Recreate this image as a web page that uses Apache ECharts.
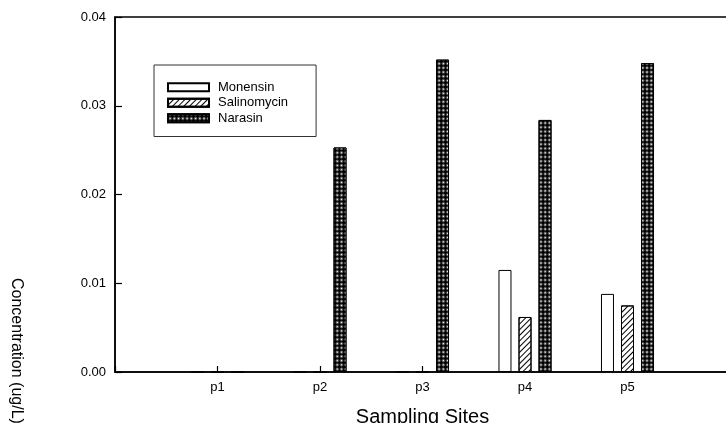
<!DOCTYPE html>
<html>
<head>
<meta charset="utf-8">
<script src="https://cdn.jsdelivr.net/npm/echarts@6/dist/echarts.min.js"></script>
<style>html,body{margin:0;padding:0;background:#fff}#c{width:726px;height:423px}</style>
</head>
<body>
<div id="c"></div>
<script>
const sites = ['p1', 'p2', 'p3', 'p4', 'p5'];
const monensin = [0, 0, 0, 0.0115, 0.0088];
const salinomycin = [0, 0, 0, 0.0062, 0.0075];
const narasin = [0, 0.0253, 0.0352, 0.0284, 0.0348];
const yTicks = { min: 0, max: 0.04, interval: 0.01 };
const xTitle = 'Sampling Sites';
const yTitle = 'Concentration (ug/L)';

const FONT = 'Liberation Sans, Arial, Helvetica, sans-serif';
const padCat = arr => ['', ...arr, ''];
const padVal = arr => [null, ...arr, null];
const chart = echarts.init(document.getElementById('c'), null, { renderer: 'canvas' });

const base = { type: 'bar', barWidth: 13, barGap: '54%' };
chart.setOption({
  animation: false,
  backgroundColor: '#fff',
  grid: {
    left: 115, top: 17, bottom: 51, right: -4,
    containLabel: false, outerBoundsMode: 'none',
    show: true, borderColor: '#000', borderWidth: 1.5, backgroundColor: 'transparent'
  },
  legend: {
    orient: 'vertical', left: 154, top: 65,
    padding: [15, 28, 11, 13],
    borderColor: '#333', borderWidth: 1,
    itemWidth: 41, itemHeight: 8, itemGap: 1,
    icon: 'rect',
    textStyle: { fontFamily: FONT, fontSize: 13, color: '#000', lineHeight: 14.5, padding: [0, 0, 0, 4] },
    data: ['Monensin', 'Salinomycin', 'Narasin']
  },
  xAxis: {
    type: 'category', data: padCat(sites), boundaryGap: false,
    name: xTitle, nameLocation: 'middle', nameGap: 35,
    nameTextStyle: { fontFamily: FONT, fontSize: 20, color: '#000' },
    axisLine: { lineStyle: { color: '#000', width: 1.5 } },
    axisTick: { inside: true, length: 6, lineStyle: { color: '#000', width: 1.2 } },
    axisLabel: { fontFamily: FONT, fontSize: 13, color: '#000', margin: 9 },
    splitLine: { show: false }
  },
  yAxis: {
    type: 'value', min: yTicks.min, max: yTicks.max, interval: yTicks.interval,
    axisLine: { show: true, lineStyle: { color: '#000', width: 1.5 } },
    axisTick: { show: true, inside: true, length: 7, lineStyle: { color: '#000', width: 1.2 } },
    axisLabel: { fontFamily: FONT, fontSize: 13, color: '#000', margin: 9, formatter: v => v.toFixed(2) },
    splitLine: { show: false }
  },
  graphic: [{
    type: 'text', x: 16, y: 278, rotation: -Math.PI / 2,
    style: { text: yTitle, fontFamily: FONT, fontSize: 16, fill: '#000', textAlign: 'left', textVerticalAlign: 'middle' }
  }],
  series: [
    Object.assign({}, base, {
      name: 'Monensin', data: padVal(monensin),
      itemStyle: { color: '#fff', borderColor: '#000', borderWidth: 1 }
    }),
    Object.assign({}, base, {
      name: 'Salinomycin', data: padVal(salinomycin),
      itemStyle: {
        color: '#fff', borderColor: '#000', borderWidth: 1,
        decal: { color: '#000', symbol: 'rect', symbolSize: 1, dashArrayX: [1, 0], dashArrayY: [1, 3], rotation: -Math.PI / 4 }
      }
    }),
    Object.assign({}, base, {
      name: 'Narasin', data: padVal(narasin),
      itemStyle: {
        color: '#000', borderColor: '#000', borderWidth: 1,
        decal: { color: '#fff', symbol: 'rect', symbolSize: 0.65, dashArrayX: [[3, 3], [0, 3, 3, 0]], dashArrayY: [3, 0], rotation: Math.PI / 4 }
      }
    })
  ]
});
</script>
</body>
</html>
